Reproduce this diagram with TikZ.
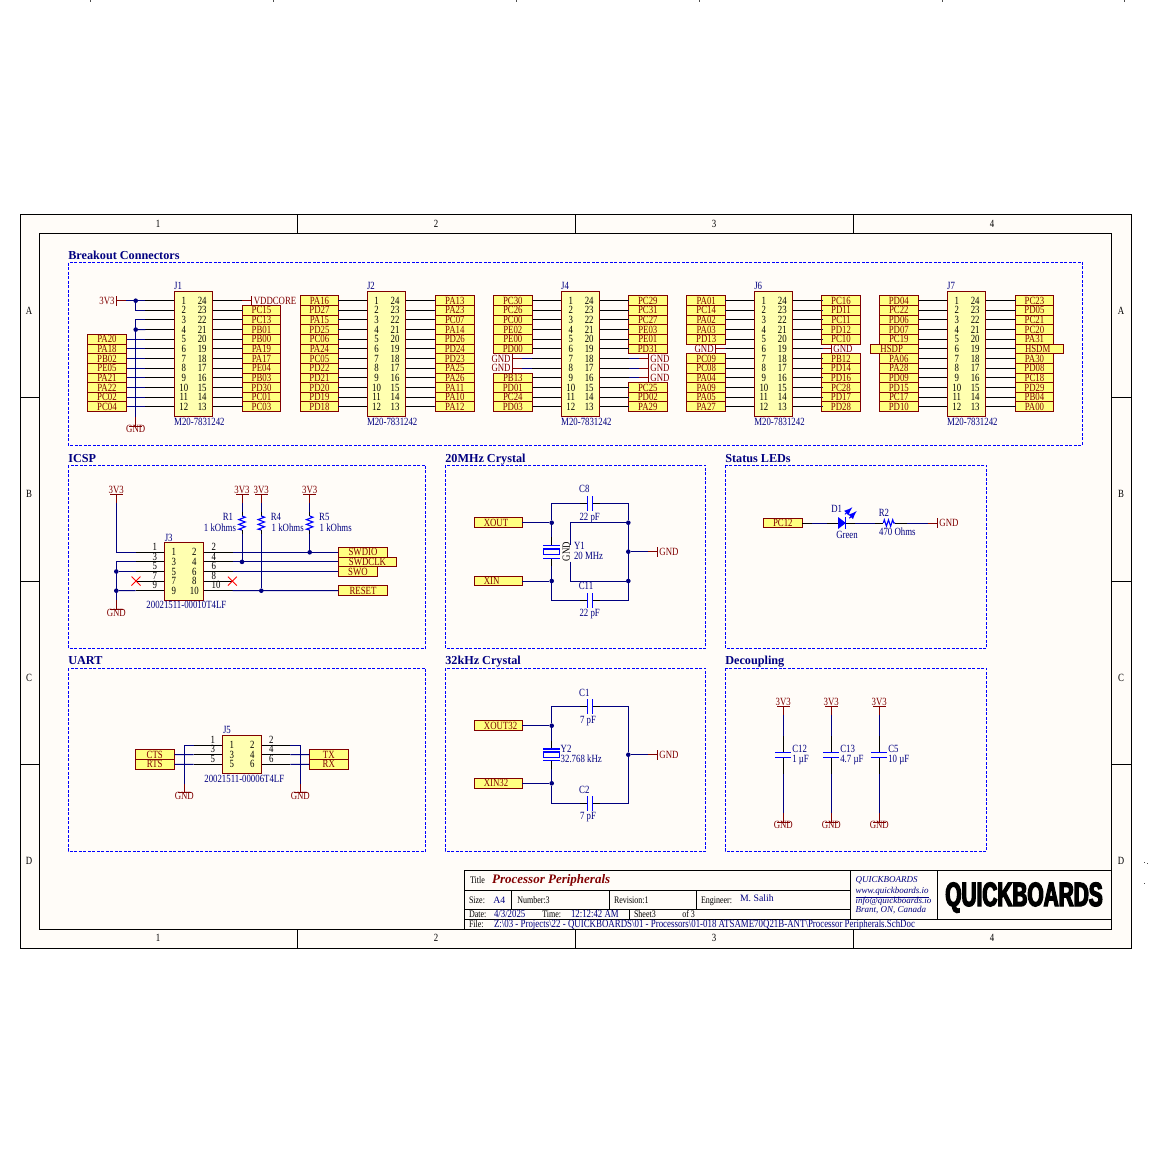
\documentclass[tikz,border=0pt]{standalone}
\usepackage{fontspec}
\setmainfont{Liberation Serif}
\newfontfamily\logofont[FakeBold=4,FakeStretch=.62]{Liberation Sans Bold}
\newfontfamily\schfam[FakeStretch=.8]{Liberation Serif}
\usetikzlibrary{positioning}
\usetikzlibrary{shapes.misc}
\usetikzlibrary{shapes.geometric}
\definecolor{netred}{HTML}{800000}
\definecolor{wireblue}{HTML}{000080}
\definecolor{partblue}{HTML}{0000FF}
\definecolor{portfill}{HTML}{FFFF80}
\definecolor{bodyfill}{HTML}{FFFFB0}
\definecolor{sheetfill}{HTML}{FFFCF8}
\newcommand{\schfont}{\fontsize{5.5}{6}\schfam}
\tikzset{
	schtext/.style = {inner sep=0pt, outer sep=0pt, text height=3.6pt, text depth=0pt, font=\schfont},
	netlbl/.style = {schtext, text=netred},
	refdes/.style = {schtext, text=wireblue},
	pinnum/.style = {schtext, text=black},
	port/.style = {schtext, rectangle, draw=netred, fill=portfill, text=netred, line width=.5pt, minimum height=4.82pt},
	hdrbody/.style = {rectangle, draw=netred, fill=bodyfill, line width=.5pt, inner sep=0pt, minimum width=19.28pt, minimum height=62.7pt},
	wire/.style = {draw=wireblue, line width=.5pt},
	pin/.style = {draw=black, line width=.5pt},
	stem/.style = {draw=netred, line width=.5pt},
	vbar/.style = {rectangle, fill=netred, inner sep=0pt, outer sep=0pt, minimum width=.5pt, minimum height=5pt},
	hbar/.style = {rectangle, fill=netred, inner sep=0pt, outer sep=0pt, minimum width=6.5pt, minimum height=.5pt},
	vplate/.style = {rectangle, fill=partblue, inner sep=0pt, outer sep=0pt, minimum width=.6pt, minimum height=7.4pt},
	hplate/.style = {rectangle, fill=partblue, inner sep=0pt, outer sep=0pt, minimum width=8pt, minimum height=.6pt},
	dot/.style = {circle, fill=wireblue, inner sep=0pt, outer sep=0pt, minimum size=2.3pt},
	noconn/.style = {cross out, draw=red, line width=.45pt, inner sep=0pt, minimum size=4pt},
	blockbox/.style = {draw=partblue, line width=.5pt, dash pattern=on 1.5pt off .75pt},
	blocktitle/.style = {inner sep=0pt, outer sep=0pt, anchor=west, text height=4pt, text depth=0pt, text=wireblue, font=\fontsize{6.1}{7}\selectfont\bfseries},
	frame/.style = {draw=black, line width=.5pt},
	tbtext/.style = {inner sep=0pt, outer sep=0pt, anchor=west, text height=3.3pt, text depth=0pt, text=black, font=\fontsize{5}{6}\schfam},
	tbval/.style = {inner sep=0pt, outer sep=0pt, anchor=west, text height=3.3pt, text depth=0pt, text=wireblue, font=\fontsize{4.9}{6}\selectfont},
	tbital/.style = {tbval, font=\fontsize{4.5}{5}\selectfont\itshape}
}
% breakout header, name and left edge of the body
\newcommand{\hdrconn}[2]{%
	\node (#1) [hdrbody] at (#2+19.28,354) {};
	\node (#1ref) [refdes,anchor=west] at (#2,285.7) {#1};
	\node (#1part) [refdes,anchor=west] at (#2,421.7) {M20-7831242};
	\foreach \row [evaluate=\row as \mate using int(25-\row)] in {1,...,12} {
		\coordinate (#1L\row) at (#2-28.92,{rowy(\row)});
		\coordinate (#1R\row) at (#2+67.48,{rowy(\row)});
		\draw[pin] (#1L\row) -- (#1L\row -| #1.west);
		\draw[pin] (#1R\row) -- (#1R\row -| #1.east);
		\node (#1n\row) [pinnum] at (#2+9.6,{rowy(\row)}) {\row};
		\node (#1n\mate) [pinnum] at (#2+28,{rowy(\row)}) {\mate};
	}
}
\newcommand{\portsL}[5]{%
	\foreach \lbl [count=\row from #2] in {#5} {
		\node (#1a\row) [port,anchor=west,minimum width=#4*.5pt] at (#3,{rowy(\row)}) {\lbl};
		\draw[wire] (#1a\row.east) -- (#1L\row);
	}
}
\newcommand{\portsR}[5]{%
	\foreach \lbl [count=\row from #2] in {#5} {
		\node (#1b\row) [port,anchor=west,minimum width=#4*.5pt] at (#3,{rowy(\row)}) {\lbl};
		\draw[wire] (#1b\row.west) -- (#1R\row);
	}
}
% power ports, each with its short red stem
\newcommand{\railL}[4]{%
	\node (#1) [vbar] at (#2,#3) {};
	\node (#1t) [netlbl,left=.8pt of #1] {#4};
	\coordinate (#1s) at (#2+9,#3);
	\draw[stem] (#1) -- (#1s);
}
\newcommand{\railR}[4]{%
	\node (#1) [vbar] at (#2,#3) {};
	\node (#1t) [netlbl,right=.8pt of #1] {#4};
	\coordinate (#1s) at (#2-9,#3);
	\draw[stem] (#1) -- (#1s);
}
\newcommand{\railT}[3]{%
	\node (#1) [hbar] at (#2,#3) {};
	\node (#1t) [netlbl,above=.2pt of #1] {3V3};
	\coordinate (#1s) at (#2,#3+9);
	\draw[stem] (#1) -- (#1s);
}
\newcommand{\railB}[3]{%
	\node (#1) [hbar] at (#2,#3) {};
	\node (#1t) [netlbl,below=-.5pt of #1] {GND};
	\coordinate (#1s) at (#2,#3-9);
	\draw[stem] (#1) -- (#1s);
}
\newcommand{\caph}[3]{%
	\node (#1a) [vplate] at (#2-2.5,#3) {};
	\node (#1b) [vplate] at (#2+2.5,#3) {};
	\coordinate (#1p) at (#2-10,#3);
	\coordinate (#1q) at (#2+10,#3);
	\draw[pin] (#1a) -- (#1p);
	\draw[pin] (#1b) -- (#1q);
}
\newcommand{\capv}[3]{%
	\node (#1a) [hplate] at (#2,#3-2.3) {};
	\node (#1b) [hplate] at (#2,#3+2.3) {};
	\coordinate (#1p) at (#2,#3-19);
	\coordinate (#1q) at (#2,#3+19);
	\draw[pin] (#1a) -- (#1p);
	\draw[pin] (#1b) -- (#1q);
}
\newcommand{\xtal}[4]{%
	\node (#1a) [hplate,minimum width=8.6pt] at (#2,#3-#4) {};
	\node (#1b) [hplate,minimum width=8.6pt] at (#2,#3+#4) {};
	\node (#1) [rectangle,draw=partblue,line width=.55pt,inner sep=0pt,minimum width=8pt,minimum height=2.8pt] at (#2,#3) {};
	\coordinate (#1p) at (#2,#3-#4-8);
	\coordinate (#1q) at (#2,#3+#4+8);
	\draw[pin] (#1a) -- (#1p);
	\draw[pin] (#1b) -- (#1q);
}
\newcommand{\resv}[3]{%
	\coordinate (#1t) at (#2,#3-7);
	\coordinate (#1b) at (#2,#3+7);
	\coordinate (#1p) at (#2,#3-11);
	\coordinate (#1q) at (#2,#3+11);
	\draw[pin] (#1t) -- (#1p);
	\draw[pin] (#1b) -- (#1q);
	\draw[draw=partblue,line width=.55pt] (#1t) -- ++(3.2,1.2) -- ++(-6.4,2.4) -- ++(6.4,2.4) -- ++(-6.4,2.4) -- ++(6.4,2.4) -- ++(-6.4,2.4) -- (#1b);
}
\begin{document}
\begin{tikzpicture}[x=.5pt,y=-.5pt,
	declare function={rowy(\i)=300.7+9.64*(\i-1);}
	]
	\useasboundingbox (0,0) rectangle (1150,1150);
	% stray marks on the page edge
	\foreach \x in {90,273,516,699,942,1124} {
		\fill[black!70] (\x,0) rectangle (\x+1,2);
	}
	\fill[black!70] (1144,861.5) rectangle (1145,862.5);
	\fill[black!70] (1147,862.5) rectangle (1148,863.5);
	\fill[black!70] (1144,882.5) rectangle (1145,883.5);
	% sheet
	\draw[frame,fill=sheetfill] (20,215) rectangle (1131,948);
	\draw[frame] (39.5,233.5) rectangle (1111.5,929);
	\foreach \x in {297.5,575.5,853.5} {
		\draw[frame] (\x,215) -- (\x,233.5);
		\draw[frame] (\x,929) -- (\x,948);
	}
	\foreach \y in {397.5,581,764.5} {
		\draw[frame] (20,\y) -- (39.5,\y);
		\draw[frame] (1111.5,\y) -- (1131,\y);
	}
	\foreach \x/\lbl in {158/1,436/2,714/3,992/4} {
		\node (zt\lbl) [pinnum] at (\x,224) {\lbl};
		\node (zb\lbl) [pinnum] at (\x,938) {\lbl};
	}
	\foreach \y/\lbl in {311/A,494/B,678/C,861/D} {
		\node (zl\lbl) [pinnum] at (29,\y) {\lbl};
		\node (zr\lbl) [pinnum] at (1121,\y) {\lbl};
	}
	% blocks
	\draw[blockbox] (68.3,262.5) rectangle (1082.7,445);
	\draw[blockbox] (68.3,465.3) rectangle (425.7,648.4);
	\draw[blockbox] (445.3,465.3) rectangle (705.7,648.4);
	\draw[blockbox] (725.3,465.3) rectangle (986.7,648.4);
	\draw[blockbox] (68.3,668.3) rectangle (425.7,851.3);
	\draw[blockbox] (445.3,668.3) rectangle (705.7,851.3);
	\draw[blockbox] (725.3,668.3) rectangle (986.7,851.3);
	\node (tBreak) [blocktitle] at (68.3,255.7) {Breakout Connectors};
	\node (tIcsp) [blocktitle] at (68.3,458.7) {ICSP};
	\node (tMhz) [blocktitle] at (445.3,458.7) {20MHz Crystal};
	\node (tLed) [blocktitle] at (725.3,458.7) {Status LEDs};
	\node (tUart) [blocktitle] at (68.3,660.5) {UART};
	\node (tKhz) [blocktitle] at (445.3,660.5) {32kHz Crystal};
	\node (tDec) [blocktitle] at (725.3,660.5) {Decoupling};
	% breakout connectors
	\hdrconn{J1}{174.2}
	\hdrconn{J2}{367}
	\hdrconn{J4}{561.2}
	\hdrconn{J6}{754.3}
	\hdrconn{J7}{947.2}
	\portsL{J1}{5}{87.3}{39.4}{PA20,PA18,PB02,PE05,PA21,PA22,PC02,PC04}
	\portsR{J1}{2}{242.7}{37.6}{PC15,PC13,PB01,PB00,PA19,PA17,PE04,PB03,PD30,PC01,PC03}
	\portsL{J2}{1}{300.7}{37.6}{PA16,PD27,PA15,PD25,PC06,PA24,PC05,PD22,PD21,PD20,PD19,PD18}
	\portsR{J2}{1}{435.3}{39}{PA13,PA23,PC07,PA14,PD26,PD24,PD23,PA25,PA26,PA11,PA10,PA12}
	\portsL{J4}{1}{493.3}{39}{PC30,PC26,PC00,PE02,PE00,PD00}
	\portsL{J4}{9}{493.3}{39}{PB13,PD01,PC24,PD03}
	\portsR{J4}{1}{628.3}{39}{PC29,PC31,PC27,PE03,PE01,PD31}
	\portsR{J4}{10}{628.3}{39}{PC25,PD02,PA29}
	\portsL{J6}{1}{686.7}{39}{PA01,PC14,PA02,PA03,PD13}
	\portsL{J6}{7}{686.7}{39}{PC09,PC08,PA04,PA09,PA05,PA27}
	\portsR{J6}{1}{821.7}{38.6}{PC16,PD11,PC11,PD12,PC10}
	\portsR{J6}{7}{821.7}{38.6}{PB12,PD14,PD16,PC28,PD17,PD28}
	\portsL{J7}{1}{879.3}{39}{PD04,PC22,PD06,PD07,PC19}
	\portsL{J7}{6}{870.3}{48}{HSDP\kern2.6pt}
	\portsL{J7}{7}{879.3}{39}{PA06,PA28,PD09,PD15,PC17,PD10}
	\portsR{J7}{1}{1015.7}{37.6}{PC23,PD05,PC21,PC20,PA31}
	\portsR{J7}{6}{1015.7}{47.6}{HSDM\kern1.8pt}
	\portsR{J7}{7}{1015.7}{37.6}{PA30,PD08,PC18,PD29,PB04,PA00}
	% J1 power
	\railL{vcc1}{116.7}{300.7}{3V3}
	\railR{vdd1}{251.7}{300.7}{VDDCORE}
	\railB{gnd1}{135.7}{426}
	\node (dotJ1a) [dot] at (135.7,300.7) {};
	\node (dotJ1b) [dot] at (135.7,329.6) {};
	\draw[wire] (vcc1s) -- (J1L1);
	\draw[wire] (J1L2) -| (dotJ1a);
	\draw[wire] (J1L3) -| (gnd1s);
	\draw[wire] (J1L4) -- (dotJ1b);
	\draw[stem] (vdd1s) -- (J1R1);
	% grounded pins
	\foreach \row in {7,8} {
		\railL{gndJ4a\row}{512.7}{{rowy(\row)}}{GND}
		\draw[wire] (gndJ4a\row s) -- (J4L\row);
	}
	\foreach \row in {7,8,9} {
		\railR{gndJ4b\row}{648.3}{{rowy(\row)}}{GND}
		\draw[wire] (gndJ4b\row s) -- (J4R\row);
	}
	\railL{gndJ6a}{715.7}{{rowy(6)}}{GND}
	\railR{gndJ6b}{831.3}{{rowy(6)}}{GND}
	\draw[wire] (gndJ6as) -- (J6L6);
	\draw[wire] (gndJ6bs) -- (J6R6);
	% ICSP
	\node (J3) [hdrbody,minimum width=19.7pt,minimum height=29pt] at (184,571.3) {};
	\node (J3ref) [refdes] at (168.7,537.7) {J3};
	\node (J3part) [refdes] at (186.4,605) {20021511-00010T4LF};
	\foreach \i [evaluate=\i as \yy using 552.3+9.6*(\i-1), evaluate=\i as \oddn using int(2*\i-1), evaluate=\i as \evenn using int(2*\i)] in {1,...,5} {
		\coordinate (J3L\i) at (135.5,\yy);
		\coordinate (J3R\i) at (232.5,\yy);
		\draw[pin] (J3L\i) -- (J3L\i -| J3.west);
		\draw[pin] (J3R\i) -- (J3R\i -| J3.east);
		\node (J3a\i) [pinnum] at (173.7,\yy) {\oddn};
		\node (J3b\i) [pinnum] at (194.3,\yy) {\evenn};
		\node (J3c\i) [pinnum] at (154.7,\yy-5.5) {\oddn};
		\node (J3d\i) [pinnum,anchor=west] at (211.7,\yy-5.5) {\evenn};
	}
	\railT{vccA}{116.3}{494.3}
	\railT{vccB}{242}{494.3}
	\railT{vccC}{261.3}{494.3}
	\railT{vccD}{309.7}{494.3}
	\railB{gndA}{116.3}{609.3}
	\resv{R1}{242}{523}
	\resv{R4}{261.3}{523}
	\resv{R5}{309.7}{523}
	\node (R1ref) [refdes] at (228,517.3) {R1};
	\node (R1val) [refdes] at (220,527.7) {1 kOhms};
	\node (R4ref) [refdes] at (276,517.3) {R4};
	\node (R4val) [refdes] at (287.7,527.7) {1 kOhms};
	\node (R5ref) [refdes] at (324.3,517.3) {R5};
	\node (R5val) [refdes] at (335.7,527.7) {1 kOhms};
	\node (swdio) [port,anchor=west,minimum width=24.7pt] at (338.3,552.3) {SWDIO};
	\node (swdclk) [port,anchor=west,minimum width=29.2pt] at (338.3,561.9) {SWDCLK};
	\node (swo) [port,anchor=west,minimum width=19.7pt] at (338.3,571.5) {SWO};
	\node (reset) [port,anchor=west,minimum width=24.7pt] at (338.3,590.7) {RESET};
	\node (dotA) [dot] at (116.3,571.5) {};
	\node (dotB) [dot] at (116.3,590.7) {};
	\node (dotC) [dot] at (242,561.9) {};
	\node (dotD) [dot] at (261.3,590.7) {};
	\node (dotE) [dot] at (309.7,552.3) {};
	\node (ncA) [noconn] at (136,581.1) {};
	\node (ncB) [noconn] at (232.3,581.1) {};
	\draw[wire] (vccAs) |- (J3L1);
	\draw[wire] (J3L2) -| (gndAs);
	\draw[wire] (J3L3) -- (dotA);
	\draw[wire] (J3L5) -- (dotB);
	\draw[wire] (J3R1) -- (swdio);
	\draw[wire] (J3R2) -- (swdclk);
	\draw[wire] (J3R3) -- (swo);
	\draw[wire] (J3R5) -- (reset);
	\draw[wire] (vccBs) -- (R1p);
	\draw[wire] (R1q) -- (dotC);
	\draw[wire] (vccCs) -- (R4p);
	\draw[wire] (R4q) -- (dotD);
	\draw[wire] (vccDs) -- (R5p);
	\draw[wire] (R5q) -- (dotE);
	% 20MHz crystal
	\node (xout) [port,anchor=west,minimum width=24pt] at (474.3,522.7) {XOUT\kern2.3pt};
	\node (xin) [port,anchor=west,minimum width=24pt] at (474.3,581) {XIN\kern6.6pt};
	\caph{C8}{589.8}{503.3}
	\caph{C11}{589.8}{600.3}
	\xtal{Y1}{551.7}{551.8}{6.5}
	\railR{gndB}{657.3}{551.7}{GND}
	\node (Y1ref) [refdes,anchor=west] at (574,545.7) {Y1};
	\node (Y1val) [refdes,anchor=west] at (574,555.7) {20 MHz};
	\node (Y1gnd) [pinnum,rotate=90] at (566.3,551.7) {GND};
	\node (C8ref) [refdes] at (584.3,489.3) {C8};
	\node (C8val) [refdes] at (589.7,516.7) {22 pF};
	\node (C11ref) [refdes] at (586,586) {C11};
	\node (C11val) [refdes] at (589.7,613.3) {22 pF};
	\node (dotF) [dot] at (551.7,522.7) {};
	\node (dotG) [dot] at (551.7,581) {};
	\node (dotH) [dot] at (628.3,522.7) {};
	\node (dotI) [dot] at (628.3,551.7) {};
	\node (dotJ) [dot] at (628.3,581) {};
	\coordinate (Y1c) at (570.3,545);
	\coordinate (Y1d) at (570.3,561.7);
	\draw[wire] (xout) -- (dotF);
	\draw[wire] (xin) -- (dotG);
	\draw[wire] (dotF) |- (C8p);
	\draw[wire] (dotG) |- (C11p);
	\draw[wire] (C8q) -| (dotH);
	\draw[wire] (C11q) -| (dotJ);
	\draw[wire] (dotH) -- (dotJ);
	\draw[wire] (dotF) -- (Y1p);
	\draw[wire] (Y1q) -- (dotG);
	\draw[wire] (Y1c) |- (dotH);
	\draw[wire] (Y1d) |- (dotJ);
	\draw[wire] (dotI) -- (gndBs);
	% status led
	\node (pc12) [port,anchor=west,minimum width=19.5pt] at (763.3,523) {PC12};
	\node (D1) [isosceles triangle,isosceles triangle stretches,fill=partblue,inner sep=0pt,outer sep=0pt,minimum width=6pt,minimum height=3.9pt] at (841,523) {};
	\node (D1bar) [vplate,minimum height=6pt] at (845.3,523) {};
	\coordinate (ledin) at (827,523);
	\coordinate (ledout) at (855,523);
	\coordinate (r2a) at (883.3,523);
	\coordinate (r2b) at (895,523);
	\coordinate (r2c) at (875,523);
	\coordinate (r2d) at (906.7,523);
	\railR{gndC}{937.3}{523}{GND}
	\draw[wire] (pc12) -- (ledin);
	\draw[pin] (pc12) -- (811.7,523);
	\draw[pin] (ledin) -- (D1.west);
	\draw[pin] (D1bar) -- (ledout);
	\draw[wire] (ledout) -- (r2c);
	\draw[pin] (r2c) -- (r2a);
	\draw[draw=partblue,line width=.55pt] (r2a) -- ++(1,-3.2) -- ++(2.1,6.4) -- ++(2.1,-6.4) -- ++(2.1,6.4) -- ++(2.1,-6.4) -- ++(1,3.2) -- (r2b);
	\draw[pin] (r2b) -- (r2d);
	\draw[wire] (r2d) -- (gndCs);
	\draw[-latex,draw=partblue,line width=.45pt] (845,514.3) -- (852.3,507.3);
	\draw[-latex,draw=partblue,line width=.45pt] (849.3,518.3) -- (856.7,511);
	\node (D1ref) [refdes] at (836.7,509) {D1};
	\node (D1val) [refdes] at (847,534.7) {Green};
	\node (R2ref) [refdes] at (884,513.3) {R2};
	\node (R2val) [refdes] at (897.3,532) {470 Ohms};
	% UART
	\node (J5) [hdrbody,minimum width=19.7pt,minimum height=19pt] at (242,754.3) {};
	\node (J5ref) [refdes,anchor=west] at (223,730.3) {J5};
	\node (J5part) [refdes] at (244.3,778.7) {20021511-00006T4LF};
	\foreach \i [evaluate=\i as \yy using 745.1+9.6*(\i-1), evaluate=\i as \oddn using int(2*\i-1), evaluate=\i as \evenn using int(2*\i)] in {1,2,3} {
		\coordinate (J5L\i) at (193.6,\yy);
		\coordinate (J5R\i) at (290.4,\yy);
		\draw[pin] (J5L\i) -- (J5L\i -| J5.west);
		\draw[pin] (J5R\i) -- (J5R\i -| J5.east);
		\node (J5a\i) [pinnum] at (231.7,\yy) {\oddn};
		\node (J5b\i) [pinnum] at (252.3,\yy) {\evenn};
		\node (J5c\i) [pinnum] at (212.7,\yy-5.5) {\oddn};
		\node (J5d\i) [pinnum] at (271.3,\yy-5.5) {\evenn};
	}
	\node (cts) [port,anchor=west,minimum width=19.5pt] at (135.3,754.7) {CTS};
	\node (rts) [port,anchor=west,minimum width=19.5pt] at (135.3,764.3) {RTS};
	\node (tx) [port,anchor=west,minimum width=19.5pt] at (309.3,754.7) {TX};
	\node (rx) [port,anchor=west,minimum width=19.5pt] at (309.3,764.3) {RX};
	\railB{gndD}{184.3}{792.7}
	\railB{gndE}{300.3}{792.7}
	\draw[wire] (J5L1) -| (gndDs);
	\draw[wire] (J5R1) -| (gndEs);
	\draw[wire] (cts) -- (J5L2);
	\draw[wire] (rts) -- (J5L3);
	\draw[wire] (tx) -- (J5R2);
	\draw[wire] (rx) -- (J5R3);
	% 32kHz crystal
	\node (xout32) [port,anchor=west,minimum width=24pt] at (474.3,725.7) {\kern2.3pt XOUT32};
	\node (xin32) [port,anchor=west,minimum width=24pt] at (474.3,783.3) {XIN32\kern2.3pt};
	\caph{C1}{589.8}{706.3}
	\caph{C2}{589.8}{803.3}
	\xtal{Y2}{551.7}{754.8}{5.9}
	\railR{gndF}{657.3}{754.7}{GND}
	\node (Y2ref) [refdes,anchor=west] at (560.7,748.7) {Y2};
	\node (Y2val) [refdes,anchor=west] at (560.7,759) {32.768 kHz};
	\node (C1ref) [refdes] at (584.3,692.7) {C1};
	\node (C1val) [refdes] at (588,719.7) {7 pF};
	\node (C2ref) [refdes] at (584.3,790) {C2};
	\node (C2val) [refdes] at (588,816.3) {7 pF};
	\node (dotK) [dot] at (551.7,725.7) {};
	\node (dotL) [dot] at (551.7,783.3) {};
	\node (dotM) [dot] at (628.3,754.7) {};
	\draw[wire] (xout32) -- (dotK);
	\draw[wire] (xin32) -- (dotL);
	\draw[wire] (dotK) |- (C1p);
	\draw[wire] (dotL) |- (C2p);
	\draw[wire] (C1q) -| (dotM);
	\draw[wire] (C2q) -| (dotM);
	\draw[wire] (dotK) -- (Y2p);
	\draw[wire] (Y2q) -- (dotL);
	\draw[wire] (dotM) -- (gndFs);
	% decoupling
	\foreach \name/\x/\val [count=\k] in {C12/783.3/1 µF,C13/831.3/4.7 µF,C5/879.3/10 µF} {
		\railT{vccK\k}{\x}{706.3}
		\railB{gndK\k}{\x}{822}
		\capv{\name}{\x}{755}
		\node (\name ref) [refdes,anchor=west] at (\x+9,748.7) {\name};
		\node (\name val) [refdes,anchor=west] at (\x+9,759) {\val};
		\draw[wire] (vccK\k s) -- (\name p);
		\draw[wire] (\name q) -- (gndK\k s);
	}
	% title block
	\draw[frame] (464.5,870) rectangle (1111.5,929);
	\draw[frame] (464.5,890) -- (850.7,890);
	\draw[frame] (464.5,909) -- (850.7,909);
	\draw[frame] (464.5,919.3) -- (1111.5,919.3);
	\draw[frame] (511.7,890) -- (511.7,909);
	\draw[frame] (609,890) -- (609,909);
	\draw[frame] (696.7,890) -- (696.7,909);
	\draw[frame] (629,909) -- (629,919.3);
	\draw[frame] (850.7,870) -- (850.7,919.3);
	\draw[frame] (937.7,870) -- (937.7,919.3);
	\node (tTitle) [tbtext] at (470,879.7) {Title};
	\node (tName) [inner sep=0pt,anchor=west,text=netred,text height=4pt,text depth=0pt,font=\fontsize{6.5}{7}\selectfont\bfseries\itshape] at (491.7,879.3) {Processor Peripherals};
	\node (tSize) [tbtext] at (469,899.7) {Size:};
	\node (tSizeV) [tbval] at (493.3,899.7) {A4};
	\node (tNum) [tbtext] at (517.3,899.7) {Number:3};
	\node (tRev) [tbtext] at (614,899.7) {Revision:1};
	\node (tEng) [tbtext] at (701,899.7) {Engineer:};
	\node (tEngV) [tbval] at (740,898.3) {M. Salih};
	\node (tDate) [tbtext] at (469,913.7) {Date:};
	\node (tDateV) [refdes,anchor=west] at (494,913.7) {4/3/2025};
	\node (tTime) [tbtext] at (542.3,913.7) {Time:};
	\node (tTimeV) [refdes,anchor=west] at (571,913.7) {12:12:42 AM};
	\node (tSheet) [tbtext] at (634,913.7) {Sheet3};
	\node (tOf) [tbtext] at (682.3,913.7) {of 3};
	\node (tFile) [tbtext] at (469,924) {File:};
	\node (tFileV) [refdes,anchor=west,font=\fontsize{5.55}{6}\schfam] at (494,924) {Z:\textbackslash 03 - Projects\textbackslash 22 - QUICKBOARDS\textbackslash 01 - Processors\textbackslash 01-018 ATSAME70Q21B-ANT\textbackslash Processor Peripherals.SchDoc};
	\node (tCo) [tbital] at (855.7,879.3) {QUICKBOARDS};
	\node (tWeb) [tbital] at (855.7,889.7) {\underline{www.quickboards.io}};
	\node (tMail) [tbital] at (855.7,900) {info@quickboards.io};
	\node (tAddr) [tbital] at (855.7,908.7) {Brant, ON, Canada};
	\node (tLogo) [inner sep=0pt,text height=12pt,text depth=0pt,font=\fontsize{16.8}{17}\logofont] at (1024,894) {QUICKBOARDS};
\end{tikzpicture}
\end{document}
